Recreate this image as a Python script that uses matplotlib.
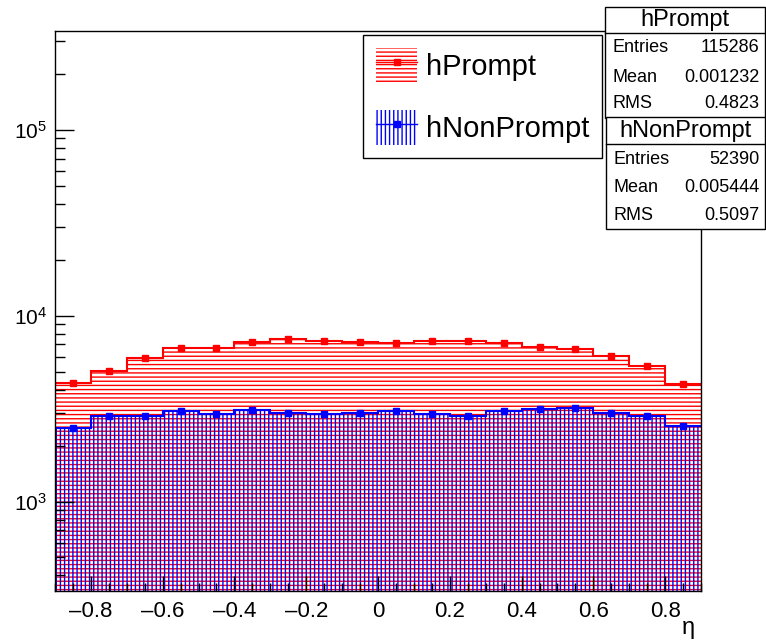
import numpy as np
import matplotlib
matplotlib.use("Agg")
import matplotlib.pyplot as plt
import matplotlib.patches as mpatches
from matplotlib.lines import Line2D
from matplotlib.ticker import LogLocator, MultipleLocator, NullFormatter

plt.rcParams['font.family'] = ['Liberation Sans', 'DejaVu Sans']
plt.rcParams['mathtext.fontset'] = 'custom'
plt.rcParams['mathtext.rm'] = 'Liberation Sans'
plt.rcParams['mathtext.it'] = 'Liberation Sans:italic'
plt.rcParams['hatch.linewidth'] = 1.0

# eta binning: 18 bins from -0.9 to 0.9
edges = np.round(np.linspace(-0.9, 0.9, 19), 3)
centers = 0.5 * (edges[:-1] + edges[1:])

prompt = np.array([4360, 5060, 5950, 6730, 6730, 7250, 7520, 7340, 7250,
                   7160, 7340, 7340, 7160, 6810, 6650, 6100, 5390, 4310])
nonprompt = np.array([2500, 2870, 2900, 3050, 2940, 3120, 3010, 2940, 3010,
                      3050, 2940, 2900, 3050, 3160, 3200, 3010, 2900, 2560])

names = ['hPrompt', 'hNonPrompt']
stat_labels = ['Entries', 'Mean', 'RMS']
stat_prompt = ['115286', '0.001232', '0.4823']
stat_nonprompt = ['52390', '0.005444', '0.5097']

fig = plt.figure(figsize=(7.66, 6.4), dpi=100)
ax = fig.add_axes([55 / 766, 49 / 640, 646 / 766, 560 / 640])

# hatched fills
ax.stairs(prompt, edges, baseline=1, fill=True, facecolor='none',
          edgecolor='red', hatch='----', lw=0)
ax.stairs(nonprompt, edges, baseline=1, fill=True, facecolor='none',
          edgecolor='blue', hatch='||||', lw=0)
# outlines
ax.stairs(prompt, edges, baseline=None, color='red', lw=1.5)
ax.stairs(nonprompt, edges, baseline=None, color='blue', lw=1.5)
# points
ax.errorbar(centers, prompt, yerr=np.sqrt(prompt), fmt='s', color='red',
            ms=4.5, elinewidth=1, capsize=0)
ax.errorbar(centers, nonprompt, yerr=np.sqrt(nonprompt), fmt='s', color='blue',
            ms=4.5, elinewidth=1, capsize=0)

ax.set_yscale('log')
ax.set_xlim(-0.9, 0.9)
ax.set_ylim(330, 3.4e5)
ax.xaxis.set_major_locator(MultipleLocator(0.2))
ax.xaxis.set_minor_locator(MultipleLocator(0.05))
ax.xaxis.set_major_formatter(plt.FuncFormatter(
    lambda v, p: '0' if abs(v) < 1e-9 else ('%.1f' % v).replace('-', '\u2013')))
ax.yaxis.set_major_locator(LogLocator(base=10))
ax.yaxis.set_minor_locator(LogLocator(base=10, subs=np.arange(2, 10)))
ax.yaxis.set_minor_formatter(NullFormatter())
ax.tick_params(axis='both', which='both', direction='in', top=False, right=False,
               color='black')
ax.tick_params(axis='x', which='major', labelsize=16, length=11, width=1, pad=7)
ax.tick_params(axis='x', which='minor', length=6, width=1)
ax.tick_params(axis='y', which='major', labelsize=15, length=14, width=1, pad=6)
ax.tick_params(axis='y', which='minor', length=7, width=1)
for s in ax.spines.values():
    s.set_linewidth(1)
    s.set_color('black')

fig.text(688 / 766, 1 - 628 / 640, '\u03b7', fontsize=17, ha='center', va='center')

# legend
h1 = (mpatches.Patch(facecolor='none', edgecolor='red', hatch='----', lw=0),
      Line2D([], [], color='red', marker='s', ms=4.5, lw=1))
h2 = (mpatches.Patch(facecolor='none', edgecolor='blue', hatch='||||', lw=0),
      Line2D([], [], color='blue', marker='s', ms=4.5, lw=1))
leg = fig.legend([h1, h2], names, loc='upper left',
                 bbox_to_anchor=(363 / 766, 1 - 35 / 640), fontsize=21,
                 handlelength=1.4, handleheight=1.45, labelspacing=0.95,
                 borderpad=0.45, borderaxespad=0, handletextpad=0.3,
                 fancybox=False, framealpha=1, edgecolor='black')
leg.get_frame().set_linewidth(1)

# stats boxes
def stat_box(x0, y0, y1, ysep, title, values, rows):
    fig.patches.append(mpatches.Rectangle((x0, y0), 0.999 - x0, y1 - y0,
                                          transform=fig.transFigure, facecolor='white',
                                          edgecolor='black', lw=1, zorder=10))
    fig.lines.append(Line2D([x0, 0.999], [ysep, ysep], transform=fig.transFigure,
                            color='black', lw=1, zorder=11))
    fig.text((x0 + 0.999) / 2, (ysep + y1) / 2, title, fontsize=17,
             ha='center', va='center', zorder=12)
    for lab, val, yy in zip(stat_labels, values, rows):
        fig.text(x0 + 0.010, yy, lab, fontsize=13, ha='left', va='center', zorder=12)
        fig.text(0.991, yy, val, fontsize=13, ha='right', va='center', zorder=12)

stat_box(605 / 766, 1 - 118 / 640, 1 - 7 / 640, 1 - 33 / 640, names[0], stat_prompt,
         [1 - 48 / 640, 1 - 77 / 640, 1 - 104 / 640])
stat_box(606 / 766, 1 - 229 / 640, 1 - 117 / 640, 1 - 144 / 640, names[1], stat_nonprompt,
         [1 - 159 / 640, 1 - 188 / 640, 1 - 215 / 640])

fig.savefig('out.png', dpi=100)
